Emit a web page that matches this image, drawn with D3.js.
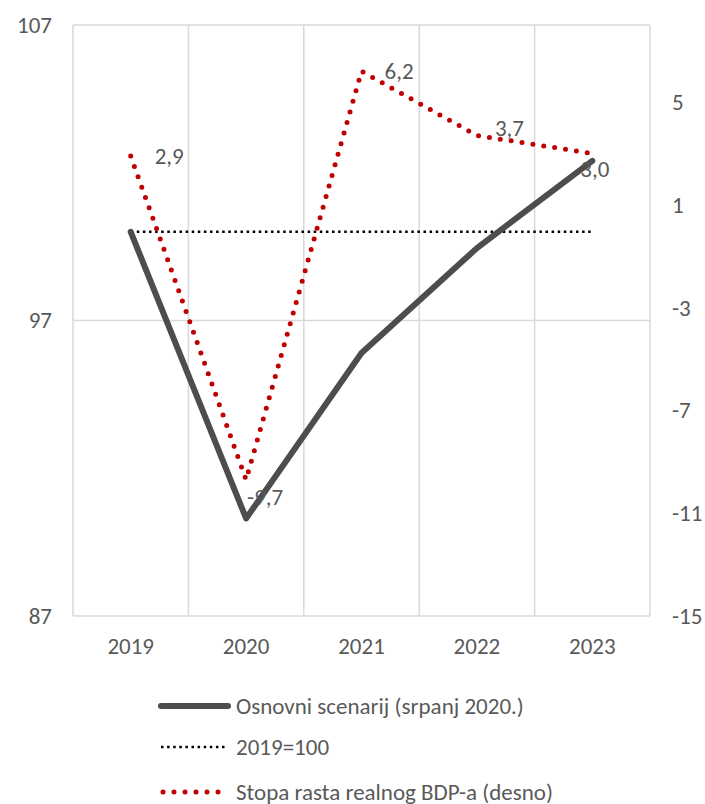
<!DOCTYPE html>
<html>
<head>
<meta charset="utf-8">
<script src="https://cdn.jsdelivr.net/npm/d3@7.9.0/dist/d3.min.js"></script>
<style>
  body { margin: 0; background: #fff; }
  svg text { font-family: Carlito, Calibri, Lato, sans-serif; fill: #595959; }
</style>
</head>
<body>
<svg id="chart" width="705" height="804"></svg>
<script>
const years = ['2019', '2020', '2021', '2022', '2023'];
const baseline = [100, 90.3, 95.9, 99.45, 102.4];
const index2019 = [100, 100, 100, 100, 100];
const growth = [2.9, -9.7, 6.2, 3.7, 3.0];
const growthLabels = ['2,9', '-9,7', '6,2', '3,7', '3,0'];
const leftTicks = [87, 97, 107];
const rightTicks = [-15, -11, -7, -3, 1, 5];
const legendNames = ['Osnovni scenarij (srpanj 2020.)', '2019=100', 'Stopa rasta realnog BDP-a (desno)'];

// label offsets, placed by hand like in the original
const labelOffsets = [[24, 0], [1, 17], [23, 0], [18, -8], [-12, 15]];

const fontSize = 23;
const svg = d3.select('#chart');
const plotLeft = 73, plotRight = 650, plotTop = 25, plotBottom = 616;

const x = d3.scaleBand().domain(years).range([plotLeft, plotRight]);
const yLeft = d3.scaleLinear().domain([87, 107]).range([plotBottom, plotTop]);
const yRight = d3.scaleLinear().domain([-15, 8]).range([plotBottom, plotTop]);
const cx = (d) => x(d) + x.bandwidth() / 2;

// gridlines
const grid = svg.append('g').attr('stroke', '#d9d9d9').attr('stroke-width', 1.5);
[plotLeft, ...years.map((d) => x(d) + x.bandwidth())].forEach((gx) => {
  grid.append('line').attr('x1', gx).attr('x2', gx).attr('y1', plotTop).attr('y2', plotBottom);
});
leftTicks.forEach((t) => {
  grid.append('line').attr('x1', plotLeft).attr('x2', plotRight).attr('y1', yLeft(t)).attr('y2', yLeft(t));
});

// axes
const axisL = svg.append('g')
  .attr('transform', `translate(${plotLeft},0)`)
  .call(d3.axisLeft(yLeft).tickValues(leftTicks).tickFormat(String).tickSize(0).tickPadding(21));
const axisR = svg.append('g')
  .attr('transform', `translate(${plotRight},0)`)
  .call(d3.axisRight(yRight).tickValues(rightTicks).tickFormat(String).tickSize(0).tickPadding(22));
const axisB = svg.append('g')
  .attr('transform', `translate(0,${plotBottom})`)
  .call(d3.axisBottom(x).tickSize(0).tickPadding(24));
[axisL, axisR, axisB].forEach((a) => {
  a.select('.domain').remove();
  a.attr('font-family', null).attr('font-size', null);
  a.selectAll('text').attr('font-size', fontSize);
});
axisB.selectAll('text').attr('dy', '0.6em');

// lines
const lineLeft = d3.line().x((d, i) => cx(years[i])).y((d) => yLeft(d));
const lineRight = d3.line().x((d, i) => cx(years[i])).y((d) => yRight(d));

svg.append('path')
  .datum(index2019)
  .attr('d', lineLeft)
  .attr('fill', 'none')
  .attr('stroke', '#000')
  .attr('stroke-width', 2.5)
  .attr('stroke-dasharray', '2.5 3.6');

svg.append('path')
  .datum(baseline)
  .attr('d', lineLeft)
  .attr('fill', 'none')
  .attr('stroke', '#4d4d4d')
  .attr('stroke-width', 6)
  .attr('stroke-linecap', 'round')
  .attr('stroke-linejoin', 'round');

svg.append('path')
  .datum(growth)
  .attr('d', lineRight)
  .attr('fill', 'none')
  .attr('stroke', '#c00000')
  .attr('stroke-width', 5)
  .attr('stroke-linecap', 'round')
  .attr('stroke-dasharray', '0 11');

// data labels
svg.append('g').selectAll('text')
  .data(growth)
  .join('text')
  .attr('x', (d, i) => cx(years[i]) + labelOffsets[i][0])
  .attr('y', (d, i) => yRight(d) + labelOffsets[i][1])
  .attr('dy', '0.35em')
  .attr('font-size', fontSize)
  .text((d, i) => growthLabels[i]);

// legend
const legend = svg.append('g');
const legendY = [706, 747, 792];
const legendStyles = [
  { stroke: '#4d4d4d', width: 6, dash: null, cap: 'round' },
  { stroke: '#000', width: 2.5, dash: '2.5 3.6', cap: 'butt' },
  { stroke: '#c00000', width: 5, dash: '0 11', cap: 'round' }
];
legendNames.forEach((name, i) => {
  const s = legendStyles[i];
  legend.append('line')
    .attr('x1', i === 2 ? 163 : 161).attr('x2', 228)
    .attr('y1', legendY[i]).attr('y2', legendY[i])
    .attr('stroke', s.stroke)
    .attr('stroke-width', s.width)
    .attr('stroke-linecap', s.cap)
    .attr('stroke-dasharray', s.dash);
  legend.append('text')
    .attr('x', 236)
    .attr('y', legendY[i])
    .attr('dy', '0.35em')
    .attr('font-size', fontSize)
    .text(name);
});
</script>
</body>
</html>
